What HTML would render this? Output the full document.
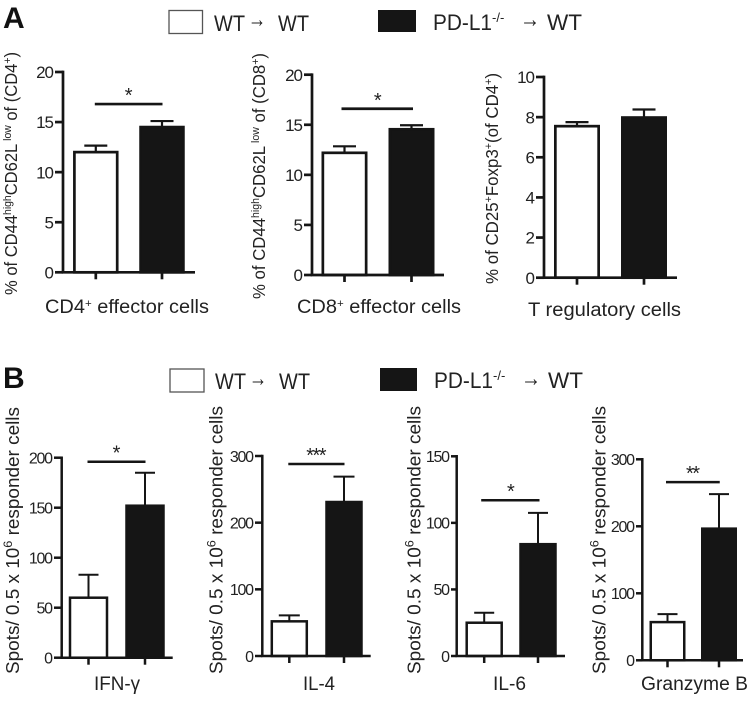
<!DOCTYPE html>
<html lang="en">
<head>
<meta charset="utf-8">
<title>Effector cells and cytokine responses</title>
<style>
html,body{margin:0;padding:0;background:#fff;width:749px;height:722px;overflow:hidden}
svg{display:block}
text{font-family:"Liberation Sans",sans-serif;fill:#222}
.leg{font-size:22px}
.arrow{font-size:24px}
.xl{font-size:19px}
.yt{font-size:17.5px}
.yb{font-size:18px}
.letter{font-size:30px;font-weight:bold;fill:#111}
</style>
</head>
<body>
<svg id="fig" xmlns="http://www.w3.org/2000/svg" width="749" height="722" viewBox="0 0 749 722">
  <rect x="0" y="0" width="749" height="722" fill="#fff"/>
  <text class="letter" x="3" y="28">A</text>
  <text class="letter" x="3" y="388">B</text>

  <g>
    <rect x="169" y="10.5" width="33.5" height="23" fill="#fff" stroke="#555" stroke-width="1.3"/>
    <text class="leg" x="214" y="31" textLength="31" lengthAdjust="spacingAndGlyphs">WT</text>
    <text class="arrow" x="248" y="27" textLength="18" lengthAdjust="spacingAndGlyphs">→</text>
    <text class="leg" x="278" y="31" textLength="31" lengthAdjust="spacingAndGlyphs">WT</text>
    <rect x="378" y="10" width="38" height="22" fill="#151515"/>
    <text class="leg" x="433" y="30" textLength="59" lengthAdjust="spacingAndGlyphs">PD-L1</text>
    <text x="492" y="22" style="font-size:13px">-/-</text>
    <text class="arrow" x="520" y="27" textLength="20" lengthAdjust="spacingAndGlyphs">→</text>
    <text class="leg" x="547" y="30" textLength="35" lengthAdjust="spacingAndGlyphs">WT</text>
  </g>
  <g>
    <rect x="170" y="369" width="34" height="23" fill="#fff" stroke="#555" stroke-width="1.3"/>
    <text class="leg" x="215" y="389" textLength="31" lengthAdjust="spacingAndGlyphs">WT</text>
    <text class="arrow" x="249" y="386" textLength="18" lengthAdjust="spacingAndGlyphs">→</text>
    <text class="leg" x="279" y="389" textLength="31" lengthAdjust="spacingAndGlyphs">WT</text>
    <rect x="380" y="368" width="37" height="23" fill="#151515"/>
    <text class="leg" x="434" y="388" textLength="59" lengthAdjust="spacingAndGlyphs">PD-L1</text>
    <text x="493" y="380" style="font-size:13px">-/-</text>
    <text class="arrow" x="521" y="386" textLength="20" lengthAdjust="spacingAndGlyphs">→</text>
    <text class="leg" x="548" y="388" textLength="35" lengthAdjust="spacingAndGlyphs">WT</text>
  </g>

  <text class="yt" transform="translate(17,295) rotate(-90)" textLength="243" lengthAdjust="spacingAndGlyphs">% of CD44<tspan dy="-6" style="font-size:11px">high</tspan><tspan dy="6">CD62L</tspan><tspan dy="-6" style="font-size:11px"> low</tspan><tspan dy="6"> of (CD4</tspan><tspan dy="-6" style="font-size:11px">+</tspan><tspan dy="6">)</tspan></text>
  <text class="yt" transform="translate(265,299) rotate(-90)" textLength="246" lengthAdjust="spacingAndGlyphs">% of CD44<tspan dy="-6" style="font-size:11px">high</tspan><tspan dy="6">CD62L</tspan><tspan dy="-6" style="font-size:11px"> low</tspan><tspan dy="6"> of (CD8</tspan><tspan dy="-6" style="font-size:11px">+</tspan><tspan dy="6">)</tspan></text>
  <text class="yt" transform="translate(498,284) rotate(-90)" textLength="211" lengthAdjust="spacingAndGlyphs">% of CD25<tspan dy="-6" style="font-size:11px">+</tspan><tspan dy="6">Foxp3</tspan><tspan dy="-6" style="font-size:11px">+</tspan><tspan dy="6">(of CD4</tspan><tspan dy="-6" style="font-size:11px">+</tspan><tspan dy="6">)</tspan></text>

  <text class="yb" transform="translate(19,674) rotate(-90)" textLength="267" lengthAdjust="spacingAndGlyphs">Spots/ 0.5 x 10<tspan dy="-7" style="font-size:12px">6</tspan><tspan dy="7"> responder cells</tspan></text>
  <text class="yb" transform="translate(222.5,674) rotate(-90)" textLength="268" lengthAdjust="spacingAndGlyphs">Spots/ 0.5 x 10<tspan dy="-7" style="font-size:12px">6</tspan><tspan dy="7"> responder cells</tspan></text>
  <text class="yb" transform="translate(420.5,674) rotate(-90)" textLength="268" lengthAdjust="spacingAndGlyphs">Spots/ 0.5 x 10<tspan dy="-7" style="font-size:12px">6</tspan><tspan dy="7"> responder cells</tspan></text>
  <text class="yb" transform="translate(605.5,674) rotate(-90)" textLength="268" lengthAdjust="spacingAndGlyphs">Spots/ 0.5 x 10<tspan dy="-7" style="font-size:12px">6</tspan><tspan dy="7"> responder cells</tspan></text>

  <text class="xl" x="45" y="313" textLength="164" lengthAdjust="spacingAndGlyphs">CD4<tspan dy="-6" style="font-size:11px">+</tspan><tspan dy="6"> effector cells</tspan></text>
  <text class="xl" x="297" y="313" textLength="164" lengthAdjust="spacingAndGlyphs">CD8<tspan dy="-6" style="font-size:11px">+</tspan><tspan dy="6"> effector cells</tspan></text>
  <text class="xl" x="528" y="316" textLength="153" lengthAdjust="spacingAndGlyphs">T regulatory cells</text>
  <text class="xl" x="94" y="690" textLength="46" lengthAdjust="spacingAndGlyphs">IFN-γ</text>
  <text class="xl" x="303" y="690" textLength="32" lengthAdjust="spacingAndGlyphs">IL-4</text>
  <text class="xl" x="493" y="690" textLength="33" lengthAdjust="spacingAndGlyphs">IL-6</text>
  <text class="xl" x="641" y="690" textLength="107" lengthAdjust="spacingAndGlyphs">Granzyme B</text>
</svg>
<script>
// Groups shared by every chart
var groups = ['WT to WT', 'PD-L1-/- to WT'];

// Panel A values
var cd4Means = [12, 14.5];
var cd4Upper = [12.65, 15.1];
var cd4Ticks = [0, 5, 10, 15, 20];
var cd4Sig = 16.8;
var cd4Stars = '*';

var cd8Means = [12.2, 14.55];
var cd8Upper = [12.85, 14.95];
var cd8Ticks = [0, 5, 10, 15, 20];
var cd8Sig = 16.6;
var cd8Stars = '*';

var tregMeans = [7.55, 7.98];
var tregUpper = [7.75, 8.38];
var tregTicks = [0, 2, 4, 6, 8, 10];

// Panel B values
var ifnMeans = [60, 152];
var ifnUpper = [83, 185];
var ifnTicks = [0, 50, 100, 150, 200];
var ifnSig = 196;
var ifnStars = '*';

var il4Means = [52, 231];
var il4Upper = [61, 269];
var il4Ticks = [0, 100, 200, 300];
var il4Sig = 288;
var il4Stars = '***';

var il6Means = [25, 84];
var il6Upper = [32.5, 107.5];
var il6Ticks = [0, 50, 100, 150];
var il6Sig = 117;
var il6Stars = '*';

var gzmMeans = [57, 196.5];
var gzmUpper = [69, 248];
var gzmTicks = [0, 100, 200, 300];
var gzmSig = 266;
var gzmStars = '**';

var charts = [
  {id:'cd4', means:cd4Means, upper:cd4Upper, ticks:cd4Ticks, sig:cd4Sig, stars:cd4Stars, axisX:63, zeroY:272.3, topY:72, leftX:55, endX:195, first:95.8, step:66.2, barW:45.5, capW:23, sw:2.7, font:17, spacing:-1, sigPad:1},
  {id:'cd8', means:cd8Means, upper:cd8Upper, ticks:cd8Ticks, sig:cd8Sig, stars:cd8Stars, axisX:312, zeroY:275, topY:74.7, leftX:304, endX:444, first:344.5, step:67, barW:46, capW:23, sw:2.7, font:17, spacing:-1, sigPad:3},
  {id:'treg', means:tregMeans, upper:tregUpper, ticks:tregTicks, sig:null, stars:'', axisX:544, zeroY:277.7, topY:77, leftX:536, endX:677, first:577, step:67, barW:46, capW:23, sw:2.7, font:17, spacing:-1, sigPad:0},
  {id:'ifn', means:ifnMeans, upper:ifnUpper, ticks:ifnTicks, sig:ifnSig, stars:ifnStars, axisX:61.7, zeroY:657.7, topY:457.7, leftX:54, endX:172.7, first:88.5, step:56.5, barW:39.5, capW:20, sw:2.5, font:16, spacing:-1.3, sigPad:1},
  {id:'il4', means:il4Means, upper:il4Upper, ticks:il4Ticks, sig:il4Sig, stars:il4Stars, axisX:262.3, zeroY:656, topY:456, leftX:255, endX:370.7, first:289.3, step:54.7, barW:37.5, capW:21, sw:2.5, font:16, spacing:-1.3, sigPad:1},
  {id:'il6', means:il6Means, upper:il6Upper, ticks:il6Ticks, sig:il6Sig, stars:il6Stars, axisX:456.7, zeroY:656, topY:456.3, leftX:451, endX:565, first:484.2, step:53.8, barW:37.5, capW:20, sw:2.5, font:16, spacing:-1.3, sigPad:3},
  {id:'gzm', means:gzmMeans, upper:gzmUpper, ticks:gzmTicks, sig:gzmSig, stars:gzmStars, axisX:642.3, zeroY:660.3, topY:459.3, leftX:636, endX:743, first:667.5, step:51.5, barW:36, capW:20, sw:2.5, font:16, spacing:-1.3, sigPad:1.5}
];

var NS = 'http://www.w3.org/2000/svg';
var root = document.getElementById('fig');
var INK = '#151515';

function make(parent, tag, attrs) {
  var node = document.createElementNS(NS, tag);
  for (var k in attrs) { node.setAttribute(k, attrs[k]); }
  parent.appendChild(node);
  return node;
}

function drawChart(c) {
  var max = c.ticks[c.ticks.length - 1];
  var yScale = function (v) { return c.zeroY - (v / max) * (c.zeroY - c.topY); };
  var xScale = function (i) { return c.first + i * c.step; };

  var g = make(root, 'g', {});
  
  

  groups.forEach(function (group, i) {
    var cx = xScale(i);
    var stem = make(g, 'line', {x1:cx, x2:cx, y1:yScale(c.means[i]), y2:yScale(c.upper[i]), stroke:INK, 'stroke-width':c.sw - 0.5});
    
    

    var cap = make(g, 'line', {x1:cx - c.capW / 2, x2:cx + c.capW / 2, y1:yScale(c.upper[i]), y2:yScale(c.upper[i]), stroke:INK, 'stroke-width':c.sw - 0.5});
    
    

    var bar = make(g, 'rect', {x:cx - c.barW / 2 + c.sw / 2, y:yScale(c.means[i]), width:c.barW - c.sw, height:c.zeroY - yScale(c.means[i]), fill:i === 0 ? '#fff' : INK, stroke:INK, 'stroke-width':c.sw});
    
    

    var xTick = make(g, 'line', {x1:cx, x2:cx, y1:c.zeroY, y2:c.zeroY + 7, stroke:INK, 'stroke-width':c.sw});
    
    
  });

  var yAxis = make(g, 'line', {x1:c.axisX, x2:c.axisX, y1:c.topY - c.sw / 2, y2:c.zeroY, stroke:INK, 'stroke-width':c.sw});
  
  

  var xAxis = make(g, 'line', {x1:c.axisX - c.sw / 2, x2:c.endX, y1:c.zeroY, y2:c.zeroY, stroke:INK, 'stroke-width':c.sw});
  
  

  c.ticks.forEach(function (t) {
    var y = yScale(t);
    var tick = make(g, 'line', {x1:c.leftX, x2:c.axisX, y1:y, y2:y, stroke:INK, 'stroke-width':c.sw});
    
    

    var label = make(g, 'text', {x:c.leftX + c.spacing - 1, y:y + c.font * 0.36, 'text-anchor':'end'});
    
    
    label.style.fontSize = c.font + 'px';
    label.style.letterSpacing = c.spacing + 'px';
    label.textContent = t;
  });

  if (c.sig !== null) {
    var sy = yScale(c.sig);
    var sigBar = make(g, 'line', {x1:xScale(0) - c.sigPad, x2:xScale(1) + c.sigPad / 2, y1:sy, y2:sy, stroke:INK, 'stroke-width':c.sw});
    
    

    var star = make(g, 'text', {x:(xScale(0) + xScale(1)) / 2 - 1, y:sy - 2, 'text-anchor':'middle'});
    
    
    star.style.fontSize = '20px';
    star.style.letterSpacing = '-1.5px';
    star.textContent = c.stars;
  }
}

charts.forEach(drawChart);
</script>
</body>
</html>
